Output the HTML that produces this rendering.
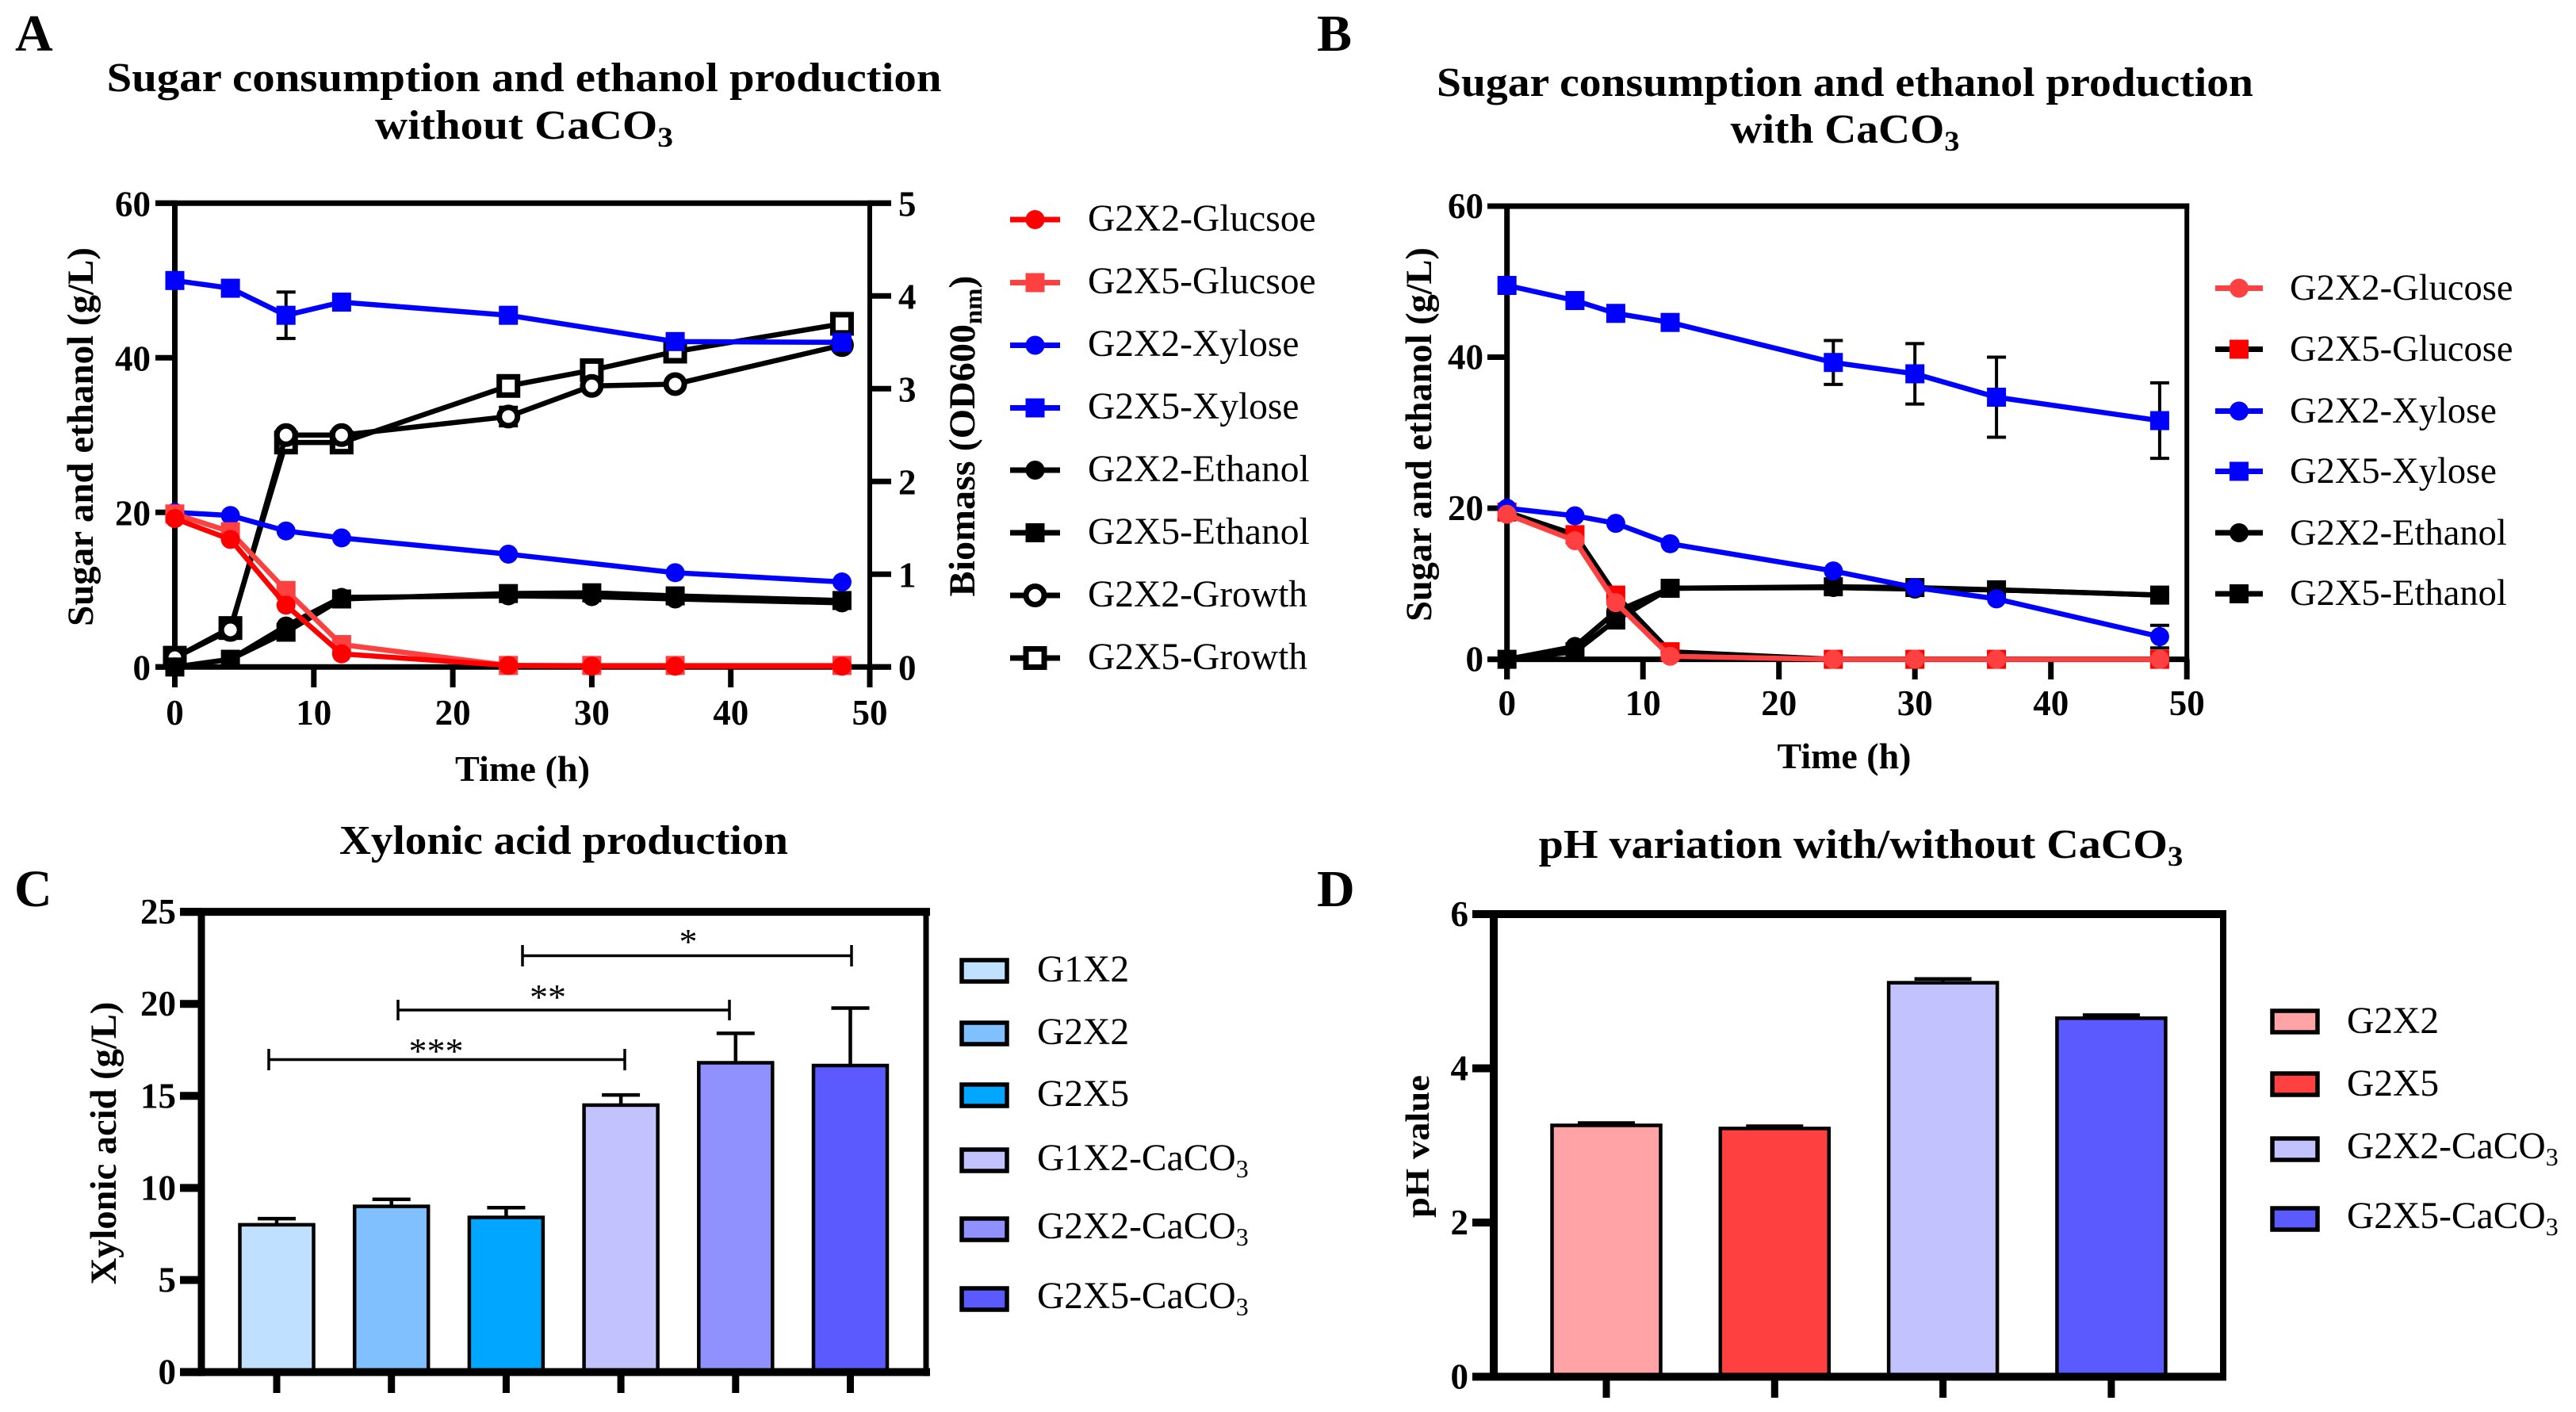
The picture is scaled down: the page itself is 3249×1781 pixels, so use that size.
<!DOCTYPE html>
<html lang="en">
<head>
<meta charset="utf-8">
<title>Sugar consumption, ethanol, xylonic acid and pH charts</title>
<style>
html,body{margin:0;padding:0;background:#fff}
svg{display:block}
text{font-family:"Liberation Serif",serif;fill:#000}
.b{font-weight:bold}
.tick{font-weight:bold;font-size:45px}
.leg{font-size:47.5px}
.title{font-weight:bold;font-size:52px}
.panel{font-weight:bold;font-size:66px}
.axt{font-weight:bold;font-size:47px}
.axd{font-weight:bold;font-size:42px}
.tim{font-weight:bold;font-size:46px}
</style>
</head>
<body>
<svg id="fig" xmlns="http://www.w3.org/2000/svg" width="3249" height="1781" viewBox="0 0 3249 1781">
<rect width="3249" height="1781" fill="#fff"/>

<!-- Panel letters -->
<text class="panel" x="19" y="64">A</text>
<text class="panel" x="1661" y="64">B</text>
<text class="panel" x="18" y="1143">C</text>
<text class="panel" x="1661" y="1143">D</text>

<!-- Titles -->
<text class="title" text-anchor="middle" data-fit="1053" data-tf="translate(661,115)">Sugar consumption and ethanol production</text>
<text class="title" text-anchor="middle" data-fit="376" data-tf="translate(661,175)">without CaCO<tspan font-size="36" dy="10">3</tspan></text>
<text class="title" text-anchor="middle" data-fit="1030" data-tf="translate(2327,121)">Sugar consumption and ethanol production</text>
<text class="title" text-anchor="middle" data-fit="289" data-tf="translate(2327,180)">with CaCO<tspan font-size="36" dy="10">3</tspan></text>
<text class="title" text-anchor="middle" data-fit="566" data-tf="translate(711,1077)">Xylonic acid production</text>
<text class="title" text-anchor="middle" data-fit="813" data-tf="translate(2347,1082)">pH variation with/without CaCO<tspan font-size="36" dy="10">3</tspan></text>

<!-- Axis titles -->
<text class="axt" text-anchor="middle" data-fit="478" data-tf="translate(117,551) rotate(-90)">Sugar and ethanol (g/L)</text>
<text class="axt" text-anchor="middle" data-fit="405" data-tf="translate(1229,550) rotate(-90)">Biomass (OD600<tspan font-size="32" dy="9">nm</tspan><tspan dy="-9">)</tspan></text>
<text class="tim" text-anchor="middle" data-fit="170" data-tf="translate(659,985)">Time (h)</text>
<text class="axt" text-anchor="middle" data-fit="472" data-tf="translate(1805,548) rotate(-90)">Sugar and ethanol (g/L)</text>
<text class="tim" text-anchor="middle" data-fit="169" data-tf="translate(2326,969)">Time (h)</text>
<text class="axt" text-anchor="middle" data-fit="357" data-tf="translate(146,1442) rotate(-90)">Xylonic acid (g/L)</text>
<text class="axd" text-anchor="middle" data-fit="180" data-tf="translate(1802,1446) rotate(-90)">pH value</text>

<!-- Chart layers filled by script -->
<g id="bars-c"></g>
<g id="axes-c"></g>
<g id="bars-d"></g>
<g id="axes-d"></g>
<g id="axes-a"></g>
<g id="series-a"></g>
<g id="axes-b"></g>
<g id="series-b"></g>
<g id="legend-marks"></g>

<!-- Significance brackets -->
<g stroke="#000" stroke-width="3.5" fill="none">
<path d="M339 1323V1350M339 1336.500H788M788 1323V1350"/>
<path d="M502 1261V1287M502 1274H920M920 1261V1287"/>
<path d="M659 1192V1219M659 1205.500H1074M1074 1192V1219"/>
</g>
<text x="550" y="1341" text-anchor="middle" font-size="46">***</text>
<text x="691" y="1273" text-anchor="middle" font-size="46">**</text>
<text x="868" y="1203" text-anchor="middle" font-size="46">*</text>

<!-- Legend A text -->
<text class="leg" x="1372" y="291">G2X2-Glucsoe</text>
<text class="leg" x="1372" y="370">G2X5-Glucsoe</text>
<text class="leg" x="1372" y="449">G2X2-Xylose</text>
<text class="leg" x="1372" y="528">G2X5-Xylose</text>
<text class="leg" x="1372" y="607">G2X2-Ethanol</text>
<text class="leg" x="1372" y="686">G2X5-Ethanol</text>
<text class="leg" x="1372" y="765">G2X2-Growth</text>
<text class="leg" x="1372" y="844">G2X5-Growth</text>

<!-- Legend B text -->
<text class="leg" x="2888" y="378" style="font-size:46.5px">G2X2-Glucose</text>
<text class="leg" x="2888" y="455" style="font-size:46.5px">G2X5-Glucose</text>
<text class="leg" x="2888" y="533" style="font-size:46.5px">G2X2-Xylose</text>
<text class="leg" x="2888" y="609" style="font-size:46.5px">G2X5-Xylose</text>
<text class="leg" x="2888" y="687" style="font-size:46.5px">G2X2-Ethanol</text>
<text class="leg" x="2888" y="763" style="font-size:46.5px">G2X5-Ethanol</text>

<!-- Legend C -->
<g stroke="#000" stroke-width="5.500">
<rect x="1213" y="1211" width="57" height="27" fill="#c0e0ff"/>
<rect x="1213" y="1290" width="57" height="27" fill="#80c0ff"/>
<rect x="1213" y="1368" width="57" height="27" fill="#00a6ff"/>
<rect x="1213" y="1450" width="57" height="27" fill="#c2c2ff"/>
<rect x="1213" y="1537" width="57" height="27" fill="#9090ff"/>
<rect x="1213" y="1625" width="57" height="27" fill="#5a5aff"/>
</g>
<text class="leg" x="1308" y="1238">G1X2</text>
<text class="leg" x="1308" y="1317">G2X2</text>
<text class="leg" x="1308" y="1395">G2X5</text>
<text class="leg" x="1308" y="1476">G1X2-CaCO<tspan font-size="32" dy="9">3</tspan></text>
<text class="leg" x="1308" y="1562">G2X2-CaCO<tspan font-size="32" dy="9">3</tspan></text>
<text class="leg" x="1308" y="1650">G2X5-CaCO<tspan font-size="32" dy="9">3</tspan></text>

<!-- Legend D -->
<g stroke="#000" stroke-width="5.500">
<rect x="2866" y="1275" width="57" height="27" fill="#ffa3a6"/>
<rect x="2866" y="1354" width="57" height="27" fill="#ff4040"/>
<rect x="2866" y="1436" width="57" height="27" fill="#c2c2ff"/>
<rect x="2866" y="1524" width="57" height="27" fill="#5a5aff"/>
</g>
<text class="leg" x="2960" y="1303">G2X2</text>
<text class="leg" x="2960" y="1382">G2X5</text>
<text class="leg" x="2960" y="1461">G2X2-CaCO<tspan font-size="32" dy="9">3</tspan></text>
<text class="leg" x="2960" y="1549">G2X5-CaCO<tspan font-size="32" dy="9">3</tspan></text>
</svg>

<script>
// ===== Panel A data =====
const timeA = [0, 4, 8, 12, 24, 30, 36, 48];
const timeXyloseA = [0, 4, 8, 12, 24, 36, 48];
const g2x2GlucoseA = [19.2, 16.5, 8.0, 1.7, 0.2, 0.1, 0.1, 0.1];
const g2x5GlucoseA = [19.8, 17.5, 9.9, 2.9, 0.2, 0.2, 0.2, 0.2];
const g2x2XyloseA = [20.0, 19.6, 17.6, 16.7, 14.6, 12.2, 11.0];
const g2x5XyloseA = [50.0, 49.0, 45.5, 47.2, 45.5, 42.1, 42.0];
const g2x5XyloseErrA = [0, 0, 3.0, 0, 0, 0, 0];
const g2x2EthanolA = [0, 1.0, 5.3, 9.0, 9.2, 9.1, 8.8, 8.3];
const g2x5EthanolA = [0, 1.0, 4.5, 8.8, 9.5, 9.6, 9.2, 8.6];
const g2x2GrowthA = [0.1, 0.4, 2.5, 2.5, 2.7, 3.03, 3.05, 3.47];
const g2x2GrowthErrA = [0, 0, 0, 0, 0.1, 0, 0, 0];
const g2x5GrowthA = [0.1, 0.42, 2.42, 2.42, 3.03, 3.2, 3.4, 3.7];
const xTicksA = [0, 10, 20, 30, 40, 50];
const yTicksA = [0, 20, 40, 60];
const y2TicksA = [0, 1, 2, 3, 4, 5];

// ===== Panel B data =====
const timeB = [0, 5, 8, 12, 24, 30, 36, 48];
const g2x2GlucoseB = [19.2, 15.7, 7.5, 0.4, 0, 0, 0, 0];
const g2x5GlucoseB = [19.5, 16.5, 8.5, 1.0, 0, 0, 0, 0];
const g2x2XyloseB = [20.0, 19.0, 18.0, 15.3, 11.7, 9.5, 8.0, 3.0];
const g2x2XyloseErrB = [0, 0, 0, 0, 0, 0, 0, 1.5];
const g2x5XyloseB = [49.5, 47.5, 45.8, 44.6, 39.3, 37.8, 34.7, 31.6];
const g2x5XyloseErrB = [0, 0, 0, 0, 2.9, 4.0, 5.3, 5.0];
const g2x2EthanolB = [0, 1.7, 6.3, 9.4, 9.5, 9.3, 9.2, 8.5];
const g2x5EthanolB = [0, 1.0, 5.2, 9.4, 9.6, 9.5, 9.2, 8.5];
const xTicksB = [0, 10, 20, 30, 40, 50];
const yTicksB = [0, 20, 40, 60];

// ===== Panel C data =====
const categoriesC = ['G1X2', 'G2X2', 'G2X5', 'G1X2-CaCO3', 'G2X2-CaCO3', 'G2X5-CaCO3'];
const valuesC = [8.0, 9.0, 8.4, 14.5, 16.8, 16.65];
const errorsC = [0.33, 0.38, 0.53, 0.55, 1.6, 3.12];
const yTicksC = [0, 5, 10, 15, 20, 25];

// ===== Panel D data =====
const categoriesD = ['G2X2', 'G2X5', 'G2X2-CaCO3', 'G2X5-CaCO3'];
const valuesD = [3.26, 3.22, 5.11, 4.65];
const errorsD = [0.03, 0.03, 0.05, 0.04];
const yTicksD = [0, 2, 4, 6];

// ===== Axis functions =====
const xA = v => 220.5 + v * 17.53;
const yA = v => 841.3 - v * 9.75;
const y2A = v => 841.3 - v * 117;
const xB = v => 1900.7 + v * 17.15;
const yB = v => 831.6 - v * 9.527;
const xC = i => 349 + i * 144.7;
const yC = v => 1730.6 - v * 23.22;
const xD = i => 2026 + i * 212.3;
const yD = v => 1736.5 - v * 97.25;

const NS = 'http://www.w3.org/2000/svg';
function make(tag, parent, attrs) {
  const el = document.createElementNS(NS, tag);
  for (const k in attrs) el.setAttribute(k, attrs[k]);
  parent.appendChild(el);
  return el;
}
function rule(parent, x1, y1, x2, y2, w, color) {
  const el = make('line', parent, {x1: x1, y1: y1, x2: x2, y2: y2, stroke: color || '#000', 'stroke-width': w});
  
  
  return el;
}
function label(parent, x, y, str, anchor) {
  const el = make('text', parent, {x: x, y: y, 'text-anchor': anchor, class: 'tick'});
  el.textContent = str;
  
  
  return el;
}
function marker(parent, cx, cy, st) {
  let el;
  if (st.shape === 'circle') {
    el = make('circle', parent, st.open
      ? {cx: cx, cy: cy, r: 11.5, fill: '#fff', stroke: st.mark, 'stroke-width': 7}
      : {cx: cx, cy: cy, r: 12, fill: st.mark});
  } else {
    el = make('rect', parent, st.open
      ? {x: cx - 11.5, y: cy - 11.5, width: 23, height: 23, fill: '#fff', stroke: st.mark, 'stroke-width': 7}
      : {x: cx - 12, y: cy - 12, width: 24, height: 24, fill: st.mark});
  }
  
  
  return el;
}
function drawSeries(parent, xs, ys, fx, fy, st, errs) {
  const g = make('g', parent, {});
  
  
  const line = make('polyline', g, {
    points: xs.map((x, i) => fx(x) + ',' + fy(ys[i])).join(' '),
    fill: 'none', stroke: st.line, 'stroke-width': st.w, 'stroke-linejoin': 'miter'
  });
  
  
  if (errs) {
    xs.forEach((x, i) => {
      if (!errs[i]) return;
      const cx = fx(x);
      const top = fy(ys[i] + errs[i]);
      const bot = fy(ys[i] - errs[i]);
      const eb = make('path', g, {
        d: 'M' + cx + ' ' + top + 'V' + bot + 'M' + (cx - 12) + ' ' + top + 'H' + (cx + 12) + 'M' + (cx - 12) + ' ' + bot + 'H' + (cx + 12),
        stroke: '#000', 'stroke-width': 4, fill: 'none'
      });
      
      
    });
  }
  xs.forEach((x, i) => marker(g, fx(x), fy(ys[i]), st));
}

const S = {
  red: {line: '#ff0000', mark: '#ff0000', shape: 'circle', w: 6.5},
  lightRedSq: {line: '#ff4040', mark: '#ff4040', shape: 'square', w: 6.5},
  lightRedCirc: {line: '#ff4040', mark: '#ff4040', shape: 'circle', w: 6.5},
  blackRedSq: {line: '#000000', mark: '#ff0000', shape: 'square', w: 6.5},
  blueCirc: {line: '#0000ff', mark: '#0000ff', shape: 'circle', w: 6.5},
  blueSq: {line: '#0000ff', mark: '#0000ff', shape: 'square', w: 6.5},
  blackCirc: {line: '#000000', mark: '#000000', shape: 'circle', w: 6.5},
  blackSq: {line: '#000000', mark: '#000000', shape: 'square', w: 6.5},
  openCirc: {line: '#000000', mark: '#000000', shape: 'circle', open: true, w: 6.5},
  openSq: {line: '#000000', mark: '#000000', shape: 'square', open: true, w: 6.5}
};

// ===== Panel A axes =====
const axA = document.getElementById('axes-a');
rule(axA, xA(0), yA(60) - 3.5, xA(0), 867, 7);
rule(axA, xA(50), yA(60) - 3.5, xA(50), 867, 6);
rule(axA, 196, yA(60), 1124, yA(60), 7);
rule(axA, 196, yA(0), 1124, yA(0), 7);
xTicksA.forEach(v => {
  rule(axA, xA(v), yA(0), xA(v), 867, 7);
  label(axA, xA(v), 914, String(v), 'middle');
});
yTicksA.forEach(v => {
  rule(axA, 196, yA(v), xA(0), yA(v), 7);
  label(axA, 190, yA(v) + 16, String(v), 'end');
});
y2TicksA.forEach(v => {
  rule(axA, xA(50), y2A(v), 1124, y2A(v), 7);
  label(axA, 1133, y2A(v) + 16, String(v), 'start');
});

// ===== Panel A series =====
const seA = document.getElementById('series-a');
drawSeries(seA, timeA, g2x5GrowthA, xA, y2A, S.openSq);
drawSeries(seA, timeA, g2x2GrowthA, xA, y2A, S.openCirc, g2x2GrowthErrA);
drawSeries(seA, timeA, g2x5EthanolA, xA, yA, S.blackSq);
drawSeries(seA, timeA, g2x2EthanolA, xA, yA, S.blackCirc);
drawSeries(seA, timeXyloseA, g2x2XyloseA, xA, yA, S.blueCirc);
drawSeries(seA, timeXyloseA, g2x5XyloseA, xA, yA, S.blueSq, g2x5XyloseErrA);
drawSeries(seA, timeA, g2x5GlucoseA, xA, yA, S.lightRedSq);
drawSeries(seA, timeA, g2x2GlucoseA, xA, yA, S.red);

// ===== Panel B axes =====
const axB = document.getElementById('axes-b');
rule(axB, xB(0), yB(60) - 3.5, xB(0), 857, 7);
rule(axB, xB(50), yB(60) - 3.5, xB(50), 857, 6);
rule(axB, 1876, yB(60), xB(50) + 3, yB(60), 7);
rule(axB, 1876, yB(0), xB(50) + 3, yB(0), 7);
xTicksB.forEach(v => {
  rule(axB, xB(v), yB(0), xB(v), 857, 7);
  label(axB, xB(v), 902, String(v), 'middle');
});
yTicksB.forEach(v => {
  rule(axB, 1876, yB(v), xB(0), yB(v), 7);
  label(axB, 1871, yB(v) + 15, String(v), 'end');
});

// ===== Panel B series =====
const seB = document.getElementById('series-b');
drawSeries(seB, timeB, g2x5EthanolB, xB, yB, S.blackSq);
drawSeries(seB, timeB, g2x2EthanolB, xB, yB, S.blackCirc);
drawSeries(seB, timeB, g2x5GlucoseB, xB, yB, S.blackRedSq);
drawSeries(seB, timeB, g2x2XyloseB, xB, yB, S.blueCirc, g2x2XyloseErrB);
drawSeries(seB, timeB, g2x5XyloseB, xB, yB, S.blueSq, g2x5XyloseErrB);
drawSeries(seB, timeB, g2x2GlucoseB, xB, yB, S.lightRedCirc);

// ===== Bar charts =====
const coloursC = ['#c0e0ff', '#80c0ff', '#00a6ff', '#c2c2ff', '#9090ff', '#5a5aff'];
const coloursD = ['#ffa3a6', '#ff4040', '#c2c2ff', '#5a5aff'];
function drawBars(parent, values, errors, colours, fx, fy, width, capHalf) {
  values.forEach((v, i) => {
    const cx = fx(i);
    const top = fy(v);
    const etop = fy(v + errors[i]);
    const eb = make('path', parent, {
      d: 'M' + cx + ' ' + top + 'V' + etop + 'M' + (cx - capHalf) + ' ' + etop + 'H' + (cx + capHalf),
      stroke: '#000', 'stroke-width': 4.5, fill: 'none'
    });
    
    
    const r = make('rect', parent, {
      x: cx - width / 2, y: top, width: width, height: fy(0) - top,
      fill: colours[i], stroke: '#000', 'stroke-width': 4.5
    });
    
    
  });
}
drawBars(document.getElementById('bars-c'), valuesC, errorsC, coloursC, xC, yC, 93, 24);
drawBars(document.getElementById('bars-d'), valuesD, errorsD, coloursD, xD, yD, 137, 36);

// ===== Panel C axes =====
const axC = document.getElementById('axes-c');
rule(axC, 254, yC(25) - 4, 254, yC(0) + 5, 9);
rule(axC, 1168, yC(25) - 4, 1168, yC(0) + 5, 7);
rule(axC, 227, yC(25), 1173, yC(25), 10);
rule(axC, 227, yC(0), 1173, yC(0), 10);
yTicksC.forEach(v => {
  rule(axC, 227, yC(v), 254, yC(v), 10);
  label(axC, 222, yC(v) + 15, String(v), 'end');
});
categoriesC.forEach((c, i) => {
  rule(axC, xC(i), yC(0) + 4, xC(i), 1757, 9);
});

// ===== Panel D axes =====
const axD = document.getElementById('axes-d');
rule(axD, 1884, yD(6) - 4, 1884, yD(0) + 5, 10);
rule(axD, 2804, yD(6) - 4, 2804, yD(0) + 5, 8);
rule(axD, 1857, yD(6), 2808, yD(6), 10);
rule(axD, 1857, yD(0), 2808, yD(0), 10);
yTicksD.forEach(v => {
  rule(axD, 1857, yD(v), 1884, yD(v), 10);
  label(axD, 1852, yD(v) + 15, String(v), 'end');
});
categoriesD.forEach((c, i) => {
  rule(axD, xD(i), yD(0) + 4, xD(i), 1763, 9);
});

// ===== Line legends =====
const lm = document.getElementById('legend-marks');
function legendMark(x1, x2, y, st) {
  const l = make('line', lm, {x1: x1, y1: y, x2: x2, y2: y, stroke: st.line, 'stroke-width': 7});
  
  
  marker(lm, (x1 + x2) / 2, y, st);
}
legendMark(1274, 1337, 277, S.red);
legendMark(1274, 1337, 356.5, S.lightRedSq);
legendMark(1274, 1337, 435.5, S.blueCirc);
legendMark(1274, 1337, 514.5, S.blueSq);
legendMark(1274, 1337, 593, S.blackCirc);
legendMark(1274, 1337, 672, S.blackSq);
legendMark(1274, 1337, 751, S.openCirc);
legendMark(1274, 1337, 830, S.openSq);
legendMark(2794, 2854, 363.5, S.lightRedCirc);
legendMark(2794, 2854, 440.5, S.blackRedSq);
legendMark(2794, 2854, 518.5, S.blueCirc);
legendMark(2794, 2854, 594.5, S.blueSq);
legendMark(2794, 2854, 672, S.blackCirc);
legendMark(2794, 2854, 749, S.blackSq);

// ===== Stretch labels to their measured width =====
document.querySelectorAll('[data-fit]').forEach(t => {
  const want = parseFloat(t.getAttribute('data-fit'));
  const have = t.getComputedTextLength();
  t.setAttribute('transform', t.getAttribute('data-tf') + ' scale(' + (want / have) + ',1)');
});
</script>
</body>
</html>
